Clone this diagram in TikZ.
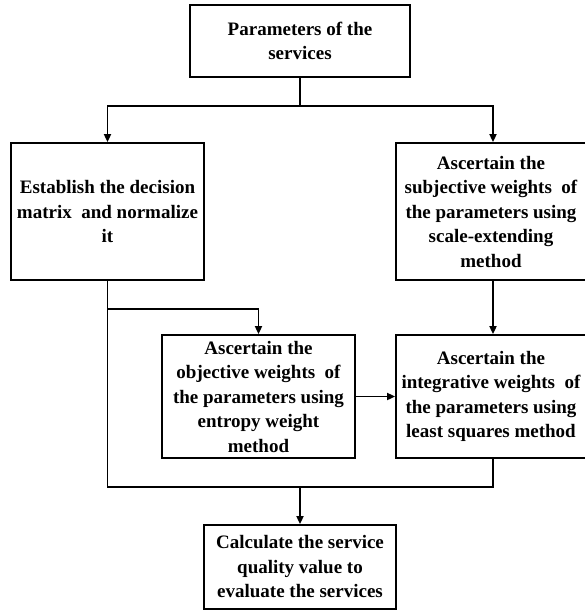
\documentclass[tikz,border=0pt]{standalone}
\usepackage{fontspec}
\setmainfont{Liberation Serif}
\usepackage{tikz}
\usetikzlibrary{calc}
\usetikzlibrary{arrows.meta}
\tikzset{
  stepbox/.style={draw,black,line width=1.8pt,align=center,inner sep=0pt,
    font=\fontsize{19}{24.5}\selectfont\bfseries},
  arr/.style={black,line width=1.8pt,-{Triangle[length=8pt,width=7pt]}},
  ln/.style={black,line width=1.8pt}
}

\begin{document}
\begin{tikzpicture}[x=1pt,y=-1pt]

\useasboundingbox (0,0) rectangle (585,611);

\node[stepbox,minimum width=220pt,minimum height=72pt] (params) at (300,41) {Parameters of the\\services};
\node[stepbox,minimum width=193pt,minimum height=137pt] (decision) at (107.5,211.5) {Establish the decision\\matrix\ \ and normalize\\it};
\node[stepbox,minimum width=190pt,minimum height=137pt] (subjective) at (491,211.5) {Ascertain the\\subjective weights\ \ of\\the parameters using\\scale-extending\\method};
\node[stepbox,minimum width=193pt,minimum height=123pt] (objective) at (258.5,396.5) {Ascertain the\\objective weights\ \ of\\the parameters using\\entropy weight\\method};
\node[stepbox,minimum width=190pt,minimum height=123pt] (integrative) at (491,396.5) {Ascertain the\\integrative weights\ \ of\\the parameters using\\least squares method};
\node[stepbox,minimum width=192pt,minimum height=84pt] (calc) at (300,567) {Calculate the service\\quality value to\\evaluate the services};

\coordinate (split) at (300,106);
\coordinate (branch) at (107.5,309);
\coordinate (join) at (300,487);

\draw[ln] (params.south) -- (split);
\draw[arr] (split) -| (decision.north);
\draw[arr] (split) -| ($(subjective.north)+(2,0)$);
\draw[arr] (decision.south) -- (branch) -| (objective.north);
\draw[arr] ($(subjective.south)+(2,0)$) -- ($(integrative.north)+(2,0)$);
\draw[arr] (objective.east) -- (integrative.west);
\draw[ln] (branch) |- (join) -| ($(integrative.south)+(2,0)$);
\draw[arr] (join) -- (calc.north);

\end{tikzpicture}
\end{document}
